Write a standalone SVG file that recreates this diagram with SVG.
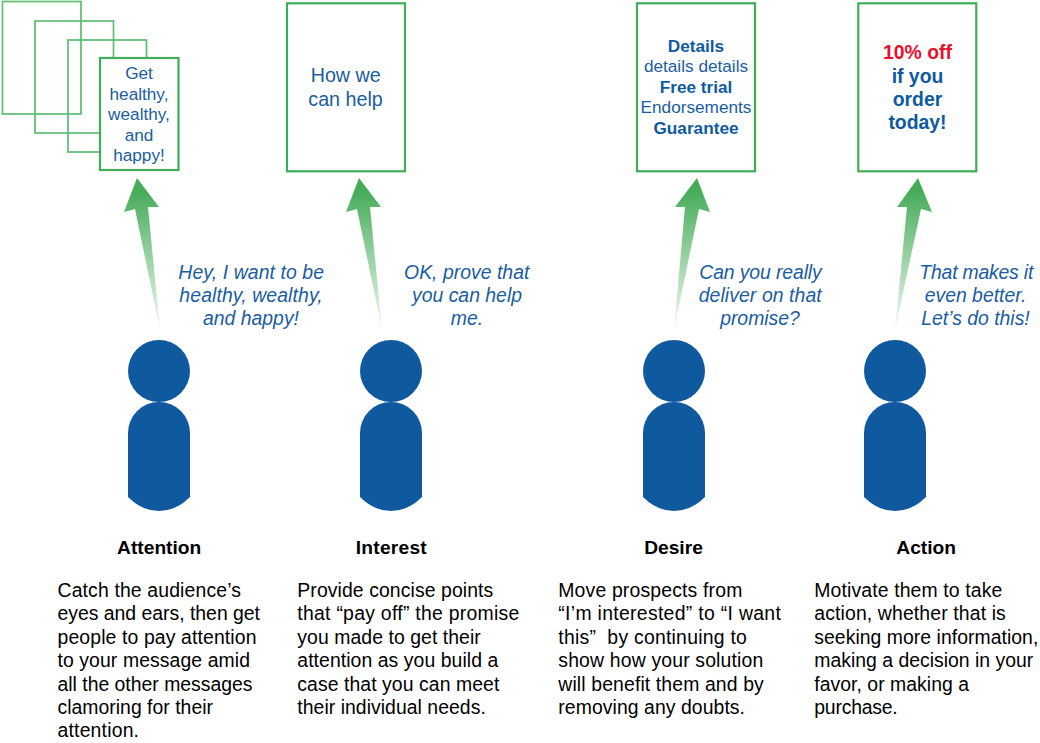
<svg xmlns="http://www.w3.org/2000/svg" width="1040" height="743" viewBox="0 0 1040 743">
<style>
text{font-family:"Liberation Sans",Arial,sans-serif;text-anchor:middle;fill:#1a5da0;white-space:pre}
.card{fill:#fff;stroke:#3fae56;stroke-width:2.2}
.back{fill:none;stroke:#5cbd72;stroke-width:1.7}
.p{fill:#0f5a9e}
.c{font-size:17.2px}
.b{font-size:17.2px;font-weight:bold;fill:#0f5a9e}
.big{font-size:19.7px}
.bigb{font-size:19.4px;font-weight:bold;fill:#0f5a9e}
.q{font-size:19.4px;font-style:italic}
.h{font-size:19.2px;font-weight:bold;fill:#000}
.d{font-size:19.4px;fill:#000;text-anchor:start}
.a{fill:url(#g)}
</style>
<defs>
<linearGradient id="g" gradientUnits="userSpaceOnUse" x1="0" y1="190" x2="0" y2="332">
<stop offset="0" stop-color="#45ac59"/><stop offset="1" stop-color="#45ac59" stop-opacity="0.05"/>
</linearGradient>
<g id="person"><circle cx="0" cy="371" r="31" class="p"/><path class="p" d="M-31 433A31 31 0 0 1 31 433V497Q17 511 0 511Q-17 511 -31 497Z"/></g>
</defs>
<g id="connectors">
<path class="a" d="M137 178L159 207L148 207L160 330L135 209L124 212Z"/>
<path class="a" d="M359 178L381 207L370 207L382 330L357 209L346 212Z"/>
<path class="a" d="M697 178L710 212L699 209L674 330L685 207L675 207Z"/>
<path class="a" d="M918 178L932 212L921 209L895 330L907 207L897 207Z"/>
</g>
<g id="attention-card">
<rect class="back" x="2.5" y="1.500" width="78.500" height="112.500"/>
<rect class="back" x="35" y="21" width="78.500" height="112"/>
<rect class="back" x="68" y="40" width="78.500" height="112"/>
<rect class="card" x="100" y="58" width="78.500" height="112"/>
<text class="c" x="139" y="79">Get</text><text class="c" x="139" y="100">healthy,</text><text class="c" x="139" y="120">wealthy,</text><text class="c" x="139" y="141">and</text><text class="c" x="139" y="161">happy!</text>
</g>
<g id="interest-card"><rect class="card" x="287" y="3.300" width="118" height="168"/>
<text class="big" x="345.700" y="81.500">How we</text><text class="big" x="345.500" y="105.500">can help</text></g>
<g id="desire-card"><rect class="card" x="637" y="3.300" width="118" height="168"/>
<text class="b" x="696" y="52">Details</text><text class="c" x="696" y="72">details details</text><text class="b" x="696" y="93">Free trial</text><text class="c" x="696" y="113">Endorsements</text><text class="b" x="696" y="134">Guarantee</text></g>
<g id="action-card"><rect class="card" x="858.300" y="3.300" width="118" height="168"/>
<text class="bigb" x="917.500" y="58.500" style="fill:#e8112d">10% off</text><text class="bigb" x="917.500" y="82.500">if you</text><text class="bigb" x="917.500" y="105.500">order</text><text class="bigb" x="917.500" y="128.500">today!</text></g>
<g id="attention-quote"><text class="q" x="251.200" y="278.500" textLength="145.700">Hey, I want to be</text><text class="q" x="251" y="301.500" textLength="143.300">healthy, wealthy,</text><text class="q" x="251" y="324.500">and happy!</text></g>
<g id="interest-quote"><text class="q" x="466.700" y="278.500" textLength="125.300">OK, prove that</text><text class="q" x="467" y="301.500">you can help</text><text class="q" x="467" y="324.500">me.</text></g>
<g id="desire-quote"><text class="q" x="760.500" y="278.500" textLength="122.400">Can you really</text><text class="q" x="760.200" y="301.500" textLength="123">deliver on that</text><text class="q" x="760" y="324.500">promise?</text></g>
<g id="action-quote"><text class="q" x="976.300" y="278.500" textLength="114">That makes it</text><text class="q" x="975.500" y="301.500">even better.</text><text class="q" x="975.500" y="324.500">Let’s do this!</text></g>
<g id="person-attention"><use href="#person" x="159"/></g>
<g id="person-interest"><use href="#person" x="391"/></g>
<g id="person-desire"><use href="#person" x="674"/></g>
<g id="person-action"><use href="#person" x="895"/></g>
<g id="attention-text"><text class="h" x="159.200" y="553.500">Attention</text>
<text class="d" x="57.500" y="596.500" textLength="183.500">Catch the audience’s</text><text class="d" x="57.500" y="620" textLength="202.500">eyes and ears, then get</text><text class="d" x="57.500" y="643.500" textLength="199">people to pay attention</text><text class="d" x="57.500" y="667" textLength="192.500">to your message amid</text><text class="d" x="57.500" y="690.500" textLength="195">all the other messages</text><text class="d" x="57.500" y="713.500" textLength="155.500">clamoring for their</text><text class="d" x="57.500" y="736.500" textLength="81.500">attention.</text></g>
<g id="interest-text"><text class="h" x="391.200" y="553.500" textLength="71">Interest</text>
<text class="d" x="297.300" y="596.500" textLength="196">Provide concise points</text><text class="d" x="297.300" y="620" textLength="222">that “pay off” the promise</text><text class="d" x="297.300" y="643.500" textLength="183.500">you made to get their</text><text class="d" x="297.300" y="667" textLength="201">attention as you build a</text><text class="d" x="297.300" y="690.500" textLength="202">case that you can meet</text><text class="d" x="297.300" y="713.500" textLength="188.500">their individual needs.</text></g>
<g id="desire-text"><text class="h" x="673.500" y="553.500">Desire</text>
<text class="d" x="558.300" y="596.500" textLength="184">Move prospects from</text><text class="d" x="558.300" y="620" textLength="222.500">“I’m interested” to “I want</text><text class="d" x="558.300" y="643.500" textLength="188.500">this”  by continuing to</text><text class="d" x="558.300" y="667" textLength="205">show how your solution</text><text class="d" x="558.300" y="690.500" textLength="205.500">will benefit them and by</text><text class="d" x="558.300" y="713.500" textLength="186.700">removing any doubts.</text></g>
<g id="action-text"><text class="h" x="926.200" y="553.500">Action</text>
<text class="d" x="814.300" y="596.500" textLength="188">Motivate them to take</text><text class="d" x="814.300" y="620" textLength="191.500">action, whether that is</text><text class="d" x="814.300" y="643.500" textLength="224">seeking more information,</text><text class="d" x="814.300" y="667" textLength="219">making a decision in your</text><text class="d" x="814.300" y="690.500" textLength="154.700">favor, or making a</text><text class="d" x="814.300" y="713.500" textLength="83.400">purchase.</text></g>
</svg>
